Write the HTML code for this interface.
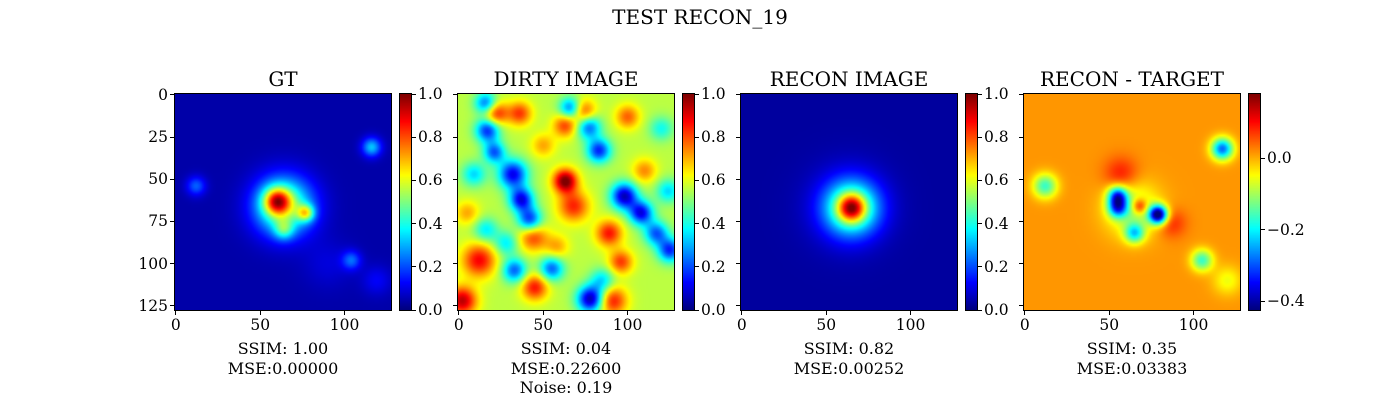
<!DOCTYPE html>
<html><head><meta charset="utf-8">
<style>
body{margin:0;background:#fff;width:1400px;height:400px;overflow:hidden;position:relative;font-family:"DejaVu Serif","Liberation Serif",serif;color:#000}
canvas{position:absolute;image-rendering:auto}
.frame{position:absolute;border:1px solid #000;box-sizing:border-box}
.tl{position:absolute;font-size:15.5px;line-height:18px;white-space:nowrap}
.tk{position:absolute;background:#000}
.ttl{position:absolute;font-size:20px;line-height:24px;text-align:center;white-space:nowrap}
.stat{position:absolute;font-size:16px;text-align:center;line-height:19.5px;white-space:nowrap}
</style></head><body>
<div class="ttl" style="left:0;width:1400px;top:5px;">TEST RECON_19</div>
<div id="root"></div>
<script>
// ---- data: blob components (data units 0-128) ----
const gtBg = 0.04;
const gtCx = [60, 77, 64, 64, 116, 12, 104, 119, 90];
const gtCy = [63, 70, 80, 66, 31, 54, 98, 110, 100];
const gtAmp = [0.5, 0.38, 0.22, 0.5, 0.28, 0.18, 0.18, 0.08, 0.05];
const gtSig = [5.5, 3.5, 4, 12, 4, 4, 4, 6, 10];

const dirtyBg = 0.56;
const dirtyCx = [63,68,98,108,32,37,42,78,17,83,66,16,21,125,117,77,33,55,12,2,45,89,96,22,36,74,63,100,44,91,16,124,9,50,28,110,85,5,58,120];
const dirtyCy = [51,66,60,70,47,62,74,121,21,33,8,5,34,92,82,19,104,103,98,122,114,82,99,11,11,10,18,13,84,122,80,57,47,30,88,45,110,70,90,20];
const dirtyAmp = [0.45,0.28,-0.5,-0.45,-0.45,-0.45,-0.4,-0.52,-0.4,-0.4,-0.34,-0.34,-0.34,-0.4,-0.34,-0.34,-0.34,-0.34,0.32,0.38,0.3,0.3,0.26,0.3,0.26,0.26,0.26,0.22,0.26,0.3,-0.2,-0.22,-0.22,0.15,-0.2,0.18,-0.22,0.15,0.15,-0.17];
const dirtySig = [5,6.5,5.5,5,6,5,5,5.5,5,5,4.5,4.5,4.5,5,5,5,5,5,7,6,5.5,5.5,5,5,5,5,5,5,6,6,5,5,5,5,5,5,5,5,5,5];

const reconBg = 0.03;
const reconCx = [65, 65, 62];
const reconCy = [67, 67, 66];
const reconAmp = [0.45, 0.48, 0.06];
const reconSig = [5.5, 11.5, 18];

const diffBg = 0.015;
const diffCx = [55, 55, 79, 68, 57, 87, 65, 117, 12, 105, 120, 64];
const diffCy = [60, 67, 71, 66, 47, 76, 82, 32, 54, 98, 110, 68];
const diffAmp = [-0.3, -0.26, -0.45, 0.15, 0.08, 0.07, -0.2, -0.3, -0.18, -0.18, -0.07, -0.12];
const diffSig = [4, 4, 3.8, 3.2, 7, 6, 4, 4.5, 5, 4.5, 6, 11];

const xTicks = [0, 50, 100];
const yTicks = [0, 25, 50, 75, 100, 125];
const cbTicks01 = [0.0, 0.2, 0.4, 0.6, 0.8, 1.0];
const cbTicksDiff = [0.0, -0.2, -0.4];
const diffMin = -0.425, diffMax = 0.18;

const panels = [
  {name:'gt', title:'GT', bg:gtBg, cx:gtCx, cy:gtCy, amp:gtAmp, sig:gtSig, vmin:0, vmax:1, ticks:cbTicks01, stats:['SSIM: 1.00','MSE:0.00000'], yLabels:true},
  {name:'dirty', title:'DIRTY IMAGE', bg:dirtyBg, cx:dirtyCx, cy:dirtyCy, amp:dirtyAmp, sig:dirtySig, vmin:0, vmax:1, ticks:cbTicks01, stats:['SSIM: 0.04','MSE:0.22600','Noise: 0.19']},
  {name:'recon', title:'RECON IMAGE', bg:reconBg, cx:reconCx, cy:reconCy, amp:reconAmp, sig:reconSig, vmin:0, vmax:1, ticks:cbTicks01, stats:['SSIM: 0.82','MSE:0.00252']},
  {name:'diff', title:'RECON - TARGET', bg:diffBg, cx:diffCx, cy:diffCy, amp:diffAmp, sig:diffSig, vmin:diffMin, vmax:diffMax, ticks:cbTicksDiff, stats:['SSIM: 0.35','MSE:0.03383']}
];

function jet(t){
  t=Math.max(0,Math.min(1,t));
  const r=Math.max(0,Math.min(1,1.5-Math.abs(4*t-3)));
  const g=Math.max(0,Math.min(1,1.5-Math.abs(4*t-2)));
  const b=Math.max(0,Math.min(1,1.5-Math.abs(4*t-1)));
  return [r*255|0,g*255|0,b*255|0];
}
const N=128, IMG=216, TOP=94;
const px = (left,d)=>left+(d+0.5)*IMG/N;
const root=document.getElementById('root');
function mk(tag,cls,name,style){
  const e=document.createElement(tag); if(cls) e.className=cls;
  
  
  Object.assign(e.style,style); root.appendChild(e); return e;
}
panels.forEach((p,i)=>{
  const left=175+i*283;
  const cv=mk('canvas','',p.name+'-heatmap',{left:left+'px',top:TOP+'px',width:IMG+'px',height:IMG+'px'});
  cv.width=N; cv.height=N;
  const ctx=cv.getContext('2d'); const im=ctx.createImageData(N,N);
  for(let y=0;y<N;y++)for(let x=0;x<N;x++){
    let v=p.bg;
    for(let k=0;k<p.cx.length;k++){const dx=x-p.cx[k],dy=y-p.cy[k];v+=p.amp[k]*Math.exp(-(dx*dx+dy*dy)/(2*p.sig[k]*p.sig[k]));}
    const c=jet((v-p.vmin)/(p.vmax-p.vmin)); const o=(y*N+x)*4;
    im.data[o]=c[0];im.data[o+1]=c[1];im.data[o+2]=c[2];im.data[o+3]=255;
  }
  ctx.putImageData(im,0,0);
  mk('div','frame',p.name+'-axes-frame',{left:(left-1)+'px',top:(TOP-1)+'px',width:(IMG+2)+'px',height:(IMG+2)+'px'});
  const t=mk('div','ttl',p.name+'-title',{left:(left-50)+'px',width:(IMG+100)+'px',top:'67px'}); t.textContent=p.title;
  xTicks.forEach(d=>{
    const x=px(left,d);
    mk('div','tk',p.name+'-x-tick',{left:(x-0.5)+'px',top:(TOP+IMG+1)+'px',width:'1px',height:'4px'});
    const l=mk('div','tl',p.name+'-x-tick-label',{left:(x-25)+'px',width:'50px',textAlign:'center',top:(TOP+IMG+6)+'px'}); l.textContent=d;
  });
  yTicks.forEach(d=>{
    const y=px(TOP,d);
    mk('div','tk',p.name+'-y-tick',{left:(left-5)+'px',top:(y-0.5)+'px',width:'4px',height:'1px'});
    if(p.yLabels){const l=mk('div','tl',p.name+'-y-tick-label',{left:(left-57)+'px',width:'50px',textAlign:'right',top:(y-9)+'px'}); l.textContent=d;}
  });
  const cbl=left+225, cbw=11;
  const cb=mk('canvas','',p.name+'-colorbar',{left:cbl+'px',top:TOP+'px',width:cbw+'px',height:IMG+'px'});
  cb.width=1; cb.height=IMG; const c2=cb.getContext('2d');
  for(let y=0;y<IMG;y++){const c=jet(1-y/(IMG-1)); c2.fillStyle='rgb('+c+')'; c2.fillRect(0,y,1,1);}
  mk('div','frame',p.name+'-colorbar-frame',{left:(cbl-1)+'px',top:(TOP-1)+'px',width:(cbw+2)+'px',height:(IMG+2)+'px'});
  p.ticks.forEach(v=>{
    const y=TOP+IMG-(v-p.vmin)/(p.vmax-p.vmin)*IMG;
    mk('div','tk',p.name+'-colorbar-tick',{left:(cbl+cbw+1)+'px',top:(y-0.5)+'px',width:'4px',height:'1px'});
    const l=mk('div','tl',p.name+'-colorbar-label',{left:(cbl+cbw+7)+'px',top:(y-9)+'px'});
    l.textContent=(v<0?'\u2212':'')+Math.abs(v).toFixed(1);
  });
  const s=mk('div','stat',p.name+'-stats',{left:(left+IMG/2-100)+'px',width:'200px',top:'339px'});
  s.innerHTML=p.stats.join('<br>');
});
</script>
</body></html>
